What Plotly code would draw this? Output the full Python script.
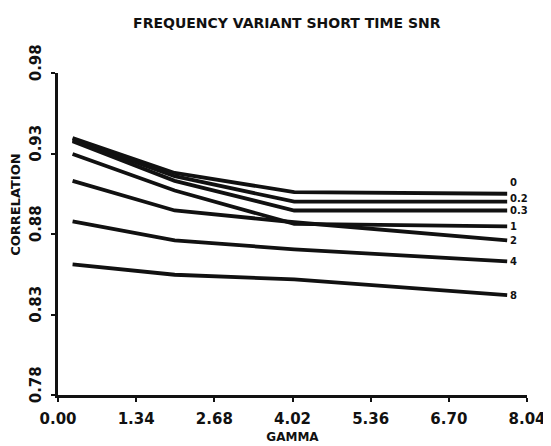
import plotly.graph_objects as go

# Data
gamma = [0.25, 2.0, 4.05, 7.7]
series_names = ["0", "0.2", "0.3", "1", "2", "4", "8"]
corr_0 = [0.9396, 0.9179, 0.9060, 0.9050]
corr_02 = [0.9386, 0.9159, 0.9001, 0.9001]
corr_03 = [0.9376, 0.9130, 0.8946, 0.8946]
corr_1 = [0.9297, 0.9070, 0.8863, 0.8847]
corr_2 = [0.9130, 0.8946, 0.8873, 0.8760]
corr_4 = [0.8879, 0.8760, 0.8705, 0.8630]
corr_8 = [0.8611, 0.8547, 0.8518, 0.8420]
x_ticks = [0.00, 1.34, 2.68, 4.02, 5.36, 6.70, 8.04]
x_tick_labels = ["0.00", "1.34", "2.68", "4.02", "5.36", "6.70", "8.04"]
y_ticks = [0.78, 0.83, 0.88, 0.93, 0.98]
y_tick_labels = ["0.78", "0.83", "0.88", "0.93", "0.98"]

all_series = [corr_0, corr_02, corr_03, corr_1, corr_2, corr_4, corr_8]
label_yshift = [11, 3, 0, 0, 0, 0, 0]

FONT = "DejaVu Sans"
fig = go.Figure()
for name, vals in zip(series_names, all_series):
    fig.add_trace(go.Scatter(x=gamma, y=vals, mode="lines", name=name,
                             line=dict(color="#111111", width=3.8),
                             showlegend=False, hoverinfo="skip"))

for name, vals, ys in zip(series_names, all_series, label_yshift):
    fig.add_annotation(x=gamma[-1], y=vals[-1], xref="x", yref="y", text=name,
                       showarrow=False, xanchor="left", yanchor="middle",
                       xshift=1, yshift=ys,
                       font=dict(family=FONT, size=10, color="#111111", weight="bold"))

fig.add_annotation(x=-0.092, y=0.59, xref="paper", yref="paper", text="CORRELATION",
                   showarrow=False, textangle=-90, xanchor="center", yanchor="middle",
                   font=dict(family=FONT, size=13, color="#111111", weight="bold"))

fig.update_layout(
    width=551, height=446,
    margin=dict(l=50, r=31.5, t=65, b=44),
    paper_bgcolor="white", plot_bgcolor="white",
    title=dict(text="FREQUENCY VARIANT SHORT TIME SNR", x=0.506, xanchor="center",
               y=1 - 15 / 446, yanchor="middle", yref="container",
               font=dict(family=FONT, size=14, color="#111111", weight="bold")),
    xaxis=dict(range=[0, 8.04], tickmode="array", tickvals=x_ticks, ticktext=x_tick_labels,
               showline=True, linecolor="#111111", linewidth=2.5, mirror=False,
               ticks="outside", ticklen=4, tickwidth=2, tickcolor="#111111",
               showgrid=False, zeroline=False, ticklabelstandoff=4,
               tickfont=dict(family=FONT, size=15, color="#111111", weight="bold"),
               title=dict(text="GAMMA", standoff=6,
                          font=dict(family=FONT, size=12, color="#111111", weight="bold"))),
    yaxis=dict(range=[0.78, 0.98], tickmode="array", tickvals=y_ticks, ticktext=y_tick_labels,
               showline=True, linecolor="#111111", linewidth=2.5,
               ticks="outside", ticklen=4, tickwidth=2, tickcolor="#111111",
               showgrid=False, zeroline=False, tickangle=-90, ticklabelshift=-8,
               ticklabelstandoff=4,
               tickfont=dict(family=FONT, size=15, color="#111111", weight="bold")),
)

fig.write_html("out.html")
